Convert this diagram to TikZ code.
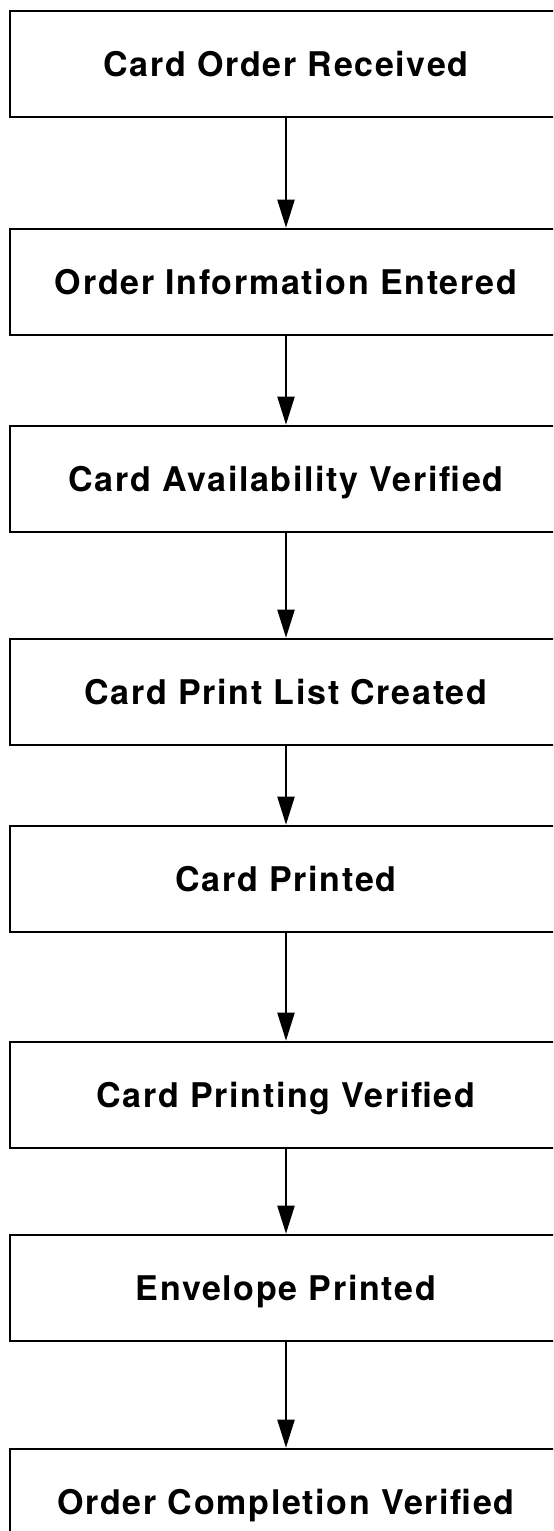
\documentclass[tikz,border=0pt]{standalone}
\usepackage{fontspec}
\setmainfont{TeX Gyre Heros}[LetterSpace=5]
\usepackage{tikz}
\usetikzlibrary{positioning,calc,arrows.meta}

\tikzset{
    stagebox/.style={draw, line width=1.3pt, minimum width=276pt, minimum height=53pt,
        inner sep=0pt, text height=12pt, text depth=0pt,
        font=\fontsize{17}{20}\selectfont\bfseries},
    flow/.style={line width=1.1pt, -{Triangle[length=14pt,width=8.5pt]}}
}

\begin{document}
\begin{tikzpicture}[x=0.5pt, y=-0.5pt]
    \useasboundingbox (0,0) rectangle (553,1531);
    \clip (0,0) rectangle (553,1531);

    % Boxes
    \foreach \y/\name/\label in {64/b1/Card Order Received, 282/b2/Order Information Entered,
        479/b3/Card Availability Verified, 692/b4/Card Print List Created,
        879/b5/Card Printed, 1095/b6/Card Printing Verified,
        1288/b7/Envelope Printed, 1502/b8/Order Completion Verified} {
        \node [stagebox] (\name) at (286, \y) {\label};
    }

    % Arrows
    \foreach \i/\j in {1/2, 2/3, 3/4, 4/5, 5/6, 6/7, 7/8} {
        \draw [flow] (b\i.south) -- (b\j.north);
    }
\end{tikzpicture}
\end{document}
